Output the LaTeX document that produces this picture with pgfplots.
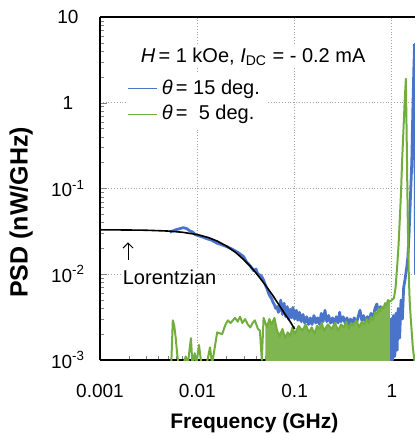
\documentclass[border=0pt]{standalone}
\usepackage{fontspec}
\setmainfont{Liberation Sans}
\usepackage{pgfplots}
\pgfplotsset{compat=1.18}
\usetikzlibrary{arrows.meta}
\definecolor{psdblue}{HTML}{4A74C9}
\definecolor{psdgreen}{HTML}{72AE3E}

\begin{document}
\begin{tikzpicture}
\begin{axis}[
  name=ax,
  scale only axis,
  width=157.5pt, height=171.5pt,
  xmode=log, ymode=log,
  xmin=0.001, xmax=1.726,
  ymin=0.001, ymax=10,
  separate axis lines,
  axis x line*=box,
  axis y line*=left,
  axis line style={line width=0.6pt},
  xtick={0.001,0.01,0.1,1},
  xticklabels={0.001,0.01,0.1,1},
  ytick={0.001,0.01,0.1,1,10},
  yticklabels={10\textsuperscript{-3},10\textsuperscript{-2},10\textsuperscript{-1},1,10},
  xtick pos=left, ytick pos=left,
  tick align=inside,
  major tick length=3.5pt, minor tick length=2pt,
  /pgf/number format/assume math mode=true,
  tick label style={font=\fontsize{9.5}{11}\selectfont},
  xticklabel style={anchor=center, yshift=-15.5pt},
  yticklabel style={anchor=center, xshift=-16pt},
  xmajorgrids, ymajorgrids,
  major grid style={gray!70, densely dotted, line width=0.5pt},
  xlabel={\textbf{Frequency (GHz)}},
  ylabel={\textbf{PSD (nW/GHz)}},
  every axis x label/.style={font=\fontsize{10.5}{12}\selectfont, at={(rel axis cs:0.49,-0.184)}, anchor=center},
  every axis y label/.style={font=\fontsize{12.5}{15}\selectfont, at={(rel axis cs:-0.25,0.43)}, anchor=center, rotate=90},
  legend style={at={(rel axis cs:0.08,0.835)}, anchor=north west, draw=none, fill=white,
    inner sep=1pt, font=\fontsize{10}{12}\selectfont, row sep=0pt},
  legend cell align=left,
  legend image code/.code={\draw[#1, line width=0.6pt] (0pt,0pt) -- (14.5pt,0pt);},
]
% theta = 15 deg
\addplot[psdblue, line width=1.4pt, line join=round] coordinates {
(0.0052,0.031) (0.0056,0.032) (0.006,0.033) (0.0066,0.034) (0.0072,0.035)
(0.0078,0.034) (0.0084,0.032) (0.009,0.031) (0.0095,0.029) (0.0105,0.028)
(0.0115,0.027) (0.0125,0.026) (0.014,0.025) (0.016,0.023) (0.018,0.022)
(0.02,0.021) (0.022,0.020) (0.024,0.019) (0.026,0.018) (0.028,0.017)
(0.030,0.016) (0.032,0.014) (0.034,0.013) (0.036,0.012) (0.038,0.011)
(0.040,0.0115) (0.042,0.010) (0.044,0.0098) (0.046,0.0094) (0.048,0.0085)
(0.05,0.0075) (0.052,0.0068) (0.054,0.006) (0.056,0.0055) (0.058,0.0052)
(0.06,0.0047) (0.062,0.0044) (0.064,0.0040) (0.066,0.0042) (0.068,0.0036)
(0.070,0.0039) (0.072,0.0050) (0.075,0.0034) (0.078,0.0046) (0.081,0.0032)
(0.084,0.0042) (0.087,0.0030) (0.090,0.0039) (0.093,0.0031) (0.096,0.0041)
(0.10,0.0030) (0.104,0.0038) (0.108,0.0029) (0.112,0.0036) (0.117,0.0028)
(0.122,0.0034) (0.127,0.0027) (0.133,0.0032) (0.139,0.0026) (0.145,0.0031)
(0.151,0.0026) (0.158,0.0033) (0.165,0.0027) (0.172,0.0031) (0.180,0.0026)
(0.188,0.0035) (0.196,0.0028) (0.205,0.0038) (0.214,0.0028) (0.224,0.0033)
(0.234,0.0027) (0.245,0.0031) (0.256,0.0026) (0.268,0.0032) (0.28,0.0027)
(0.29,0.0036) (0.30,0.0028) (0.315,0.0032) (0.33,0.0027) (0.345,0.0031)
(0.36,0.0026) (0.375,0.0030) (0.39,0.0027) (0.41,0.0031) (0.43,0.0026)
(0.45,0.0032) (0.47,0.0038) (0.49,0.0029) (0.51,0.0033) (0.53,0.0028)
(0.56,0.0032) (0.58,0.0028) (0.61,0.0035) (0.64,0.0030) (0.67,0.0040)
(0.70,0.0045) (0.73,0.0033) (0.76,0.0042) (0.79,0.0036) (0.82,0.0039)
(0.85,0.0033) (0.87,0.0028) (0.89,0.0009) (0.91,0.0026) (0.93,0.0009)
(0.95,0.0030) (0.97,0.0009) (0.99,0.0030) (1.01,0.0010) (1.04,0.0033)
(1.07,0.0011) (1.10,0.0035) (1.13,0.0013) (1.16,0.0040) (1.20,0.0018)
(1.24,0.0050) (1.28,0.0030) (1.32,0.0070) (1.37,0.0090) (1.42,0.012)
(1.46,0.016) (1.50,0.030) (1.55,0.080) (1.60,0.20) (1.64,0.8)
(1.68,2.5) (1.71,4.8) (1.75,0.01)
};
\addlegendentry{\textit{θ}\,= 15 deg.}
% theta = 5 deg, dense noise floor
\addplot[psdgreen!90, fill=psdgreen!90, draw=none, forget plot] coordinates {
(0.05,0.0005) (0.05,0.0026) (0.052,0.0024) (0.055,0.0030)
(0.058,0.0026) (0.062,0.0031) (0.066,0.0022) (0.070,0.0019) (0.075,0.0023)
(0.080,0.0018) (0.085,0.0021) (0.090,0.0019) (0.095,0.0024) (0.10,0.0020)
(0.11,0.0025) (0.12,0.0022) (0.13,0.0026) (0.14,0.0021) (0.15,0.0024)
(0.16,0.0020) (0.17,0.0025) (0.18,0.0023) (0.19,0.0027) (0.20,0.0022)
(0.22,0.0026) (0.24,0.0023) (0.26,0.0027) (0.28,0.0022) (0.30,0.0026)
(0.32,0.0024) (0.34,0.0028) (0.36,0.0023) (0.38,0.0027) (0.40,0.0025)
(0.43,0.0029) (0.46,0.0024) (0.49,0.0028) (0.52,0.0026) (0.55,0.0030)
(0.58,0.0027) (0.61,0.0032) (0.64,0.0029) (0.67,0.0036) (0.70,0.0034)
(0.73,0.0040) (0.76,0.0037) (0.79,0.0042) (0.82,0.0040) (0.85,0.0046)
(0.88,0.0044) (0.91,0.0050) (0.95,0.0048) (0.95,0.0005)
};
% theta = 5 deg
\addplot[psdgreen, line width=1pt, line join=round] coordinates {
(0.0054,0.0009) (0.0056,0.0029) (0.0058,0.0025) (0.006,0.0018) (0.0062,0.0012)
(0.0064,0.0009) (0.0072,0.0009) (0.0076,0.0011) (0.008,0.0009) (0.0086,0.0018)
(0.0089,0.0009) (0.0094,0.0012) (0.0098,0.0009) (0.0104,0.0015) (0.011,0.0009)
(0.0125,0.0009) (0.0135,0.0014) (0.0142,0.0009) (0.016,0.0021) (0.018,0.0020)
(0.0195,0.0026) (0.0206,0.0029) (0.022,0.0027) (0.0244,0.0031) (0.026,0.0028)
(0.0275,0.0032) (0.029,0.0027) (0.031,0.0030) (0.033,0.0026) (0.035,0.0024)
(0.037,0.0027) (0.039,0.0029) (0.042,0.0023) (0.044,0.0022) (0.046,0.0010)
(0.048,0.0031) (0.052,0.0024) (0.055,0.0030) (0.058,0.0026) (0.062,0.0031)
(0.066,0.0022) (0.070,0.0019) (0.075,0.0023) (0.080,0.0018) (0.085,0.0021)
(0.090,0.0019) (0.095,0.0024) (0.10,0.0020) (0.11,0.0025) (0.12,0.0022)
(0.13,0.0026) (0.14,0.0021) (0.15,0.0024) (0.16,0.0020) (0.17,0.0025)
(0.18,0.0023) (0.19,0.0027) (0.20,0.0022) (0.22,0.0026) (0.24,0.0023)
(0.26,0.0027) (0.28,0.0022) (0.30,0.0026) (0.32,0.0024) (0.34,0.0028)
(0.36,0.0023) (0.38,0.0027) (0.40,0.0025) (0.43,0.0029) (0.46,0.0024)
(0.49,0.0028) (0.52,0.0026) (0.55,0.0030) (0.58,0.0027) (0.61,0.0032)
(0.64,0.0029) (0.67,0.0036) (0.70,0.0034) (0.73,0.0040) (0.76,0.0037)
(0.79,0.0042) (0.82,0.0040) (0.85,0.0046) (0.88,0.0044) (0.91,0.0050)
(0.95,0.0048) (1.00,0.0050) (1.05,0.0053) (1.09,0.0070) (1.13,0.012)
(1.17,0.022) (1.20,0.040) (1.24,0.09) (1.27,0.20) (1.31,0.45)
(1.35,1.0) (1.39,1.9) (1.42,0.35) (1.44,0.10) (1.46,0.033)
(1.49,0.010) (1.52,0.0050) (1.57,0.0028) (1.64,0.0014) (1.70,0.0010)
(1.75,0.0008)
};
\addlegendentry{\textit{θ}\,=\ \ 5 deg.}
% Lorentzian fit
\addplot[black, line width=0.8pt, forget plot] coordinates {
(0.001,0.0330) (0.002,0.0328) (0.003,0.0326) (0.005,0.0319) (0.007,0.0309)
(0.01,0.0290) (0.013,0.0268) (0.016,0.0244) (0.02,0.0213) (0.025,0.0178)
(0.03,0.0148) (0.035,0.0124) (0.04,0.0104) (0.05,0.0075) (0.06,0.0056)
(0.07,0.0043) (0.08,0.0034) (0.09,0.0028) (0.10,0.0023)
};
\node[fill=white, inner sep=1pt, font=\fontsize{10}{12}\selectfont]
  at (rel axis cs:0.486,0.883) {\textit{H}\,= 1 kOe, \textit{I}\textsubscript{DC} = - 0.2 mA};
\node[fill=white, inner sep=1pt, anchor=west, font=\fontsize{10}{12}\selectfont]
  at (rel axis cs:0.065,0.242) {Lorentzian};
\draw[-{Straight Barb[length=2.5pt]}, line width=0.5pt]
  (rel axis cs:0.089,0.292) -- (rel axis cs:0.089,0.343);
\end{axis}
\pgfresetboundingbox
\path[use as bounding box] ([shift={(-50pt,-37.5pt)}]ax.south west)
  rectangle ([shift={(0pt,8.5pt)}]ax.north east);
\end{tikzpicture}
\end{document}
